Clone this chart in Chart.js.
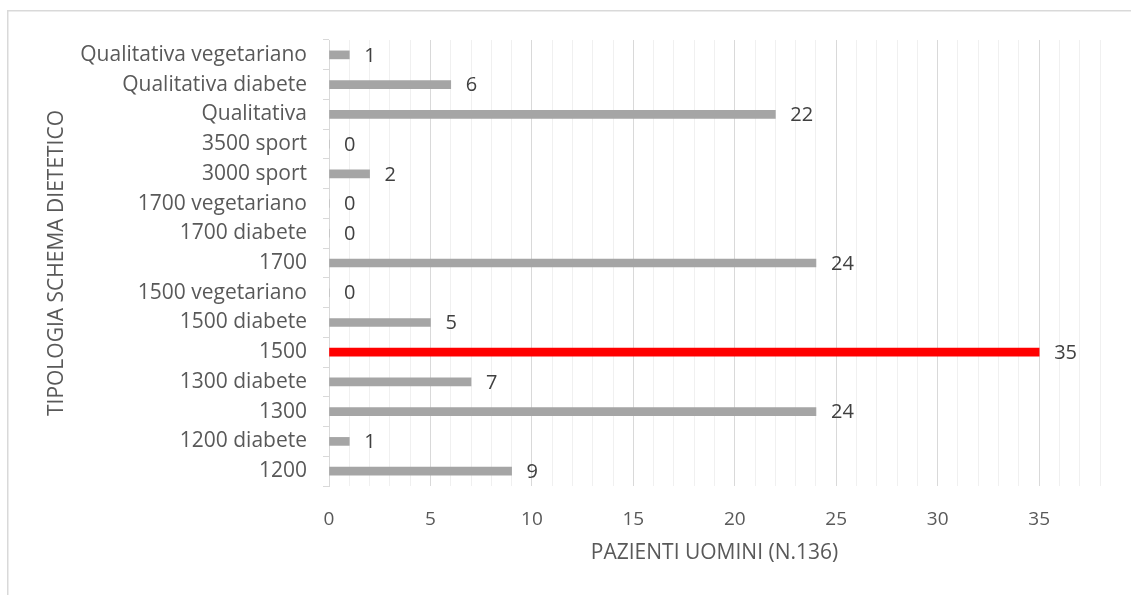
<!DOCTYPE html>
<html>
<head>
<meta charset="utf-8">
<script src="https://cdn.jsdelivr.net/npm/chart.js@4/dist/chart.umd.min.js"></script>
<style>
  html, body { margin: 0; padding: 0; background: #ffffff; }
  #wrap { width: 1131px; height: 595px; position: relative; }
</style>
</head>
<body>
<div id="wrap"><canvas id="chart" width="1131" height="595"></canvas></div>
<script>
// Diet plan types, listed from the bottom of the axis upwards
const categories = [
  '1200', '1200 diabete', '1300', '1300 diabete', '1500', '1500 diabete',
  '1500 vegetariano', '1700', '1700 diabete', '1700 vegetariano',
  '3000 sport', '3500 sport', 'Qualitativa', 'Qualitativa diabete',
  'Qualitativa vegetariano'
];
// Number of male patients per diet plan
const patients = [9, 1, 24, 7, 35, 5, 0, 24, 0, 0, 2, 0, 22, 6, 1];
// Value axis range and label step
const axisMin = 0;
const axisMax = 38;
const labelStep = 5;

const yTitle = 'TIPOLOGIA SCHEMA DIETETICO';
const xTitle = 'PAZIENTI UOMINI (N.136)';
const highlighted = '1500';

const FONT = "'Open Sans', sans-serif";

// Light frame around the whole chart
const framePlugin = {
  id: 'frame',
  beforeDraw(chart) {
    const ctx = chart.ctx;
    ctx.save();
    ctx.strokeStyle = '#d9d9d9';
    ctx.lineWidth = 1.5;
    ctx.strokeRect(7.75, 10.75, chart.width + 20, chart.height + 20);
    ctx.restore();
  }
};

// Value written just past the end of each bar
const valueLabels = {
  id: 'valueLabels',
  afterDatasetsDraw(chart) {
    const ctx = chart.ctx;
    const meta = chart.getDatasetMeta(0);
    const data = chart.data.datasets[0].data;
    ctx.save();
    ctx.font = '20px ' + FONT;
    ctx.fillStyle = '#404040';
    ctx.textAlign = 'left';
    ctx.textBaseline = 'middle';
    meta.data.forEach((bar, i) => {
      ctx.fillText(String(data[i]), bar.x + 15, bar.y + 1);
    });
    ctx.restore();
  }
};

new Chart(document.getElementById('chart'), {
  type: 'bar',
  data: {
    labels: categories,
    datasets: [{
      data: patients,
      backgroundColor: categories.map(c => c === highlighted ? '#ff0000' : '#a5a5a5'),
      barThickness: 8,
      borderWidth: 0
    }]
  },
  options: {
    indexAxis: 'y',
    responsive: false,
    animation: false,
    devicePixelRatio: 1,
    layout: { padding: { top: 40, right: 31, bottom: 0, left: 0 } },
    plugins: {
      legend: { display: false },
      tooltip: { enabled: false }
    },
    scales: {
      x: {
        min: axisMin,
        max: axisMax,
        afterFit(scale) { scale.height = 109; },
        border: { display: false },
        grid: {
          drawTicks: false,
          lineWidth: 1,
          color: ctx => (ctx.tick && ctx.tick.value % labelStep === 0) ? '#d9d9d9' : '#f0f0f0'
        },
        ticks: {
          stepSize: 1,
          autoSkip: false,
          maxRotation: 0,
          padding: 22,
          color: '#595959',
          font: { family: FONT, size: 19 },
          callback: v => (v % labelStep === 0 ? v : '')
        },
        title: {
          display: true,
          text: xTitle,
          color: '#595959',
          font: { family: FONT, size: 21 },
          padding: { top: 0, bottom: 29 }
        }
      },
      y: {
        reverse: true,
        afterFit(scale) { scale.width = 329; },
        border: { display: true, color: '#d9d9d9', width: 1 },
        grid: {
          drawOnChartArea: false,
          drawTicks: true,
          tickLength: 6,
          color: '#d9d9d9'
        },
        ticks: {
          autoSkip: false,
          padding: 16,
          color: '#595959',
          font: { family: FONT, size: 21 }
        },
        title: {
          display: true,
          text: yTitle,
          color: '#595959',
          font: { family: FONT, size: 21 },
          padding: { top: 44, bottom: 0 }
        }
      }
    }
  },
  plugins: [framePlugin, valueLabels]
});
</script>
</body>
</html>
